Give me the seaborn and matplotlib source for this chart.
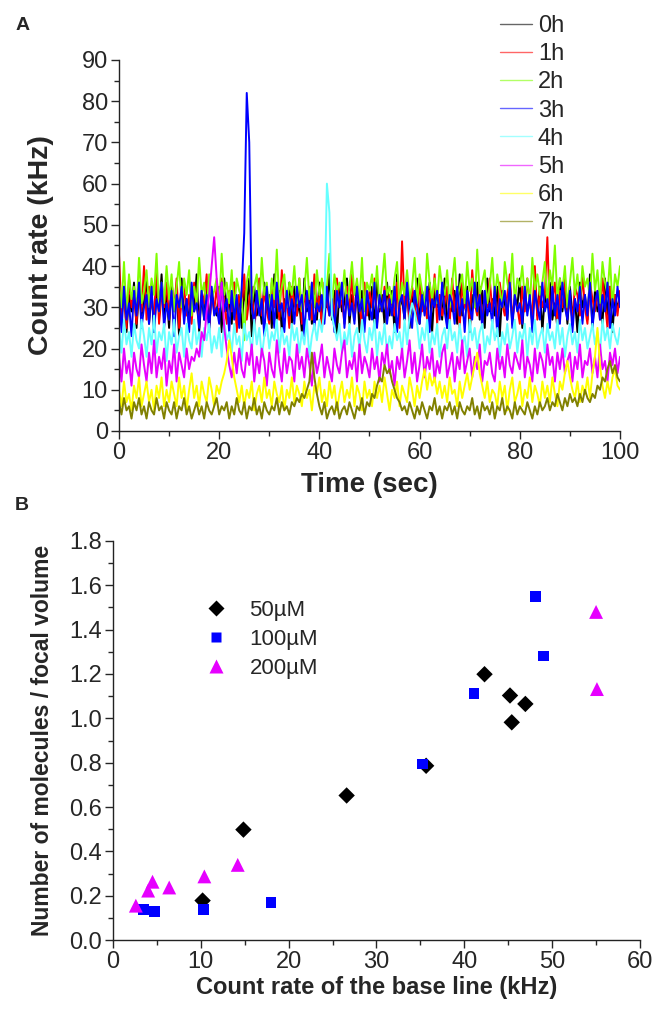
import numpy as np
import pandas as pd
import matplotlib
matplotlib.use('Agg')
import matplotlib.pyplot as plt
from matplotlib.lines import Line2D
from matplotlib.ticker import MultipleLocator, FormatStrFormatter
import seaborn as sns

# A: count rate traces, one value every 0.5 s from 0 to 100 s (kHz)
trace_names = ['0h', '1h', '2h', '3h', '4h', '5h', '6h', '7h']
trace_colors = ['#000000', '#ff0000', '#80ff00', '#0000ff', '#66ffff', '#e600ff', '#ffff00', '#808000']

rate_0h = [38, 27, 35, 24, 33, 29, 36, 25, 34, 28,
           31, 37, 26, 34, 24, 35, 29, 38, 27, 33,
           25, 36, 30, 34, 23, 37, 28, 32, 26, 35,
           29, 38, 24, 33, 27, 36, 25, 34, 30, 28,
           35, 24, 37, 29, 32, 26, 36, 27, 33, 25,
           34, 30, 37, 23, 35, 28, 31, 26, 36, 29,
           33, 25, 38, 27, 34, 24, 32, 30, 36, 26,
           35, 28, 31, 24, 37, 29, 33, 26, 34, 27,
           36, 25, 32, 30, 38, 27, 34, 23, 35, 29,
           31, 37, 26, 33, 28, 36, 24, 34, 30, 32,
           27, 35, 25, 37, 29, 33, 26, 36, 28, 34,
           24, 38, 30, 32, 27, 35, 25, 33, 29, 37,
           26, 34, 31, 28, 36, 24, 35, 30, 33, 27,
           37, 25, 32, 29, 34, 26, 38, 28, 31, 35,
           24, 33, 30, 36, 27, 34, 25, 37, 29, 32,
           28, 35, 23, 34, 31, 27, 36, 26, 33, 30,
           37, 25, 34, 29, 32, 26, 38, 28, 35, 24,
           33, 30, 36, 27, 31, 25, 37, 29, 34, 26,
           35, 28, 32, 24, 36, 30, 33, 27, 38, 25,
           34, 29, 31, 26, 37, 28, 35, 24, 33, 30,
           32]
rate_1h = [43, 28, 34, 25, 37, 30, 33, 26, 36, 29,
           40, 27, 35, 31, 28, 39, 26, 33, 30, 36,
           27, 34, 29, 37, 25, 32, 35, 28, 33, 26,
           36, 30, 27, 34, 31, 38, 25, 33, 29, 35,
           28, 37, 31, 26, 34, 29, 36, 24, 33, 30,
           38, 27, 32, 35, 25, 31, 37, 28, 34, 29,
           26, 36, 30, 33, 27, 39, 29, 32, 25, 35,
           31, 28, 37, 26, 33, 30, 35, 27, 38, 29,
           33, 25, 36, 31, 28, 34, 27, 37, 30, 32,
           26, 35, 29, 38, 27, 33, 31, 25, 36, 28,
           34, 30, 37, 26, 32, 29, 35, 27, 33, 31,
           28, 36, 25, 46, 30, 33, 27, 35, 31, 26,
           37, 29, 32, 27, 34, 30, 38, 26, 33, 28,
           31, 35, 26, 37, 29, 33, 25, 36, 30, 32,
           27, 39, 31, 28, 35, 26, 33, 30, 37, 29,
           34, 25, 36, 31, 28, 33, 38, 27, 32, 30,
           26, 35, 29, 37, 31, 28, 40, 27, 34, 30,
           33, 47, 28, 32, 36, 26, 34, 30, 37, 29,
           31, 27, 35, 33, 28, 38, 30, 26, 36, 32,
           29, 34, 27, 37, 31, 25, 35, 30, 33, 28,
           34]
rate_2h = [36, 30, 41, 28, 38, 32, 35, 29, 42, 31,
           34, 39, 30, 37, 33, 43, 29, 36, 31, 40,
           32, 38, 29, 35, 41, 30, 37, 33, 39, 28,
           35, 31, 42, 33, 36, 29, 38, 32, 34, 37,
           30, 43, 33, 36, 31, 39, 29, 37, 34, 32,
           22, 36, 40, 31, 35, 38, 30, 42, 33, 36,
           29, 37, 32, 44, 31, 35, 38, 30, 36, 33,
           40, 31, 37, 29, 34, 42, 32, 36, 30, 39,
           33, 37, 31, 35, 43, 30, 38, 34, 36, 32,
           39, 30, 35, 41, 33, 37, 31, 42, 29, 36,
           34, 38, 32, 40, 30, 36, 43, 33, 35, 31,
           37, 41, 30, 36, 33, 39, 32, 35, 42, 31,
           38, 34, 30, 43, 36, 32, 37, 31, 40, 35,
           33, 39, 30, 36, 42, 32, 35, 38, 31, 41,
           34, 37, 30, 44, 33, 36, 39, 31, 35, 42,
           32, 38, 34, 30, 41, 36, 33, 43, 31, 37,
           35, 40, 32, 37, 30, 42, 34, 38, 33, 36,
           41, 31, 39, 35, 45, 32, 37, 34, 40, 30,
           36, 42, 33, 38, 31, 40, 35, 37, 32, 43,
           34, 39, 31, 41, 36, 33, 42, 30, 38, 35,
           40]
rate_3h = [33, 24, 35, 27, 31, 23, 34, 28, 36, 25,
           30, 33, 26, 35, 24, 32, 29, 36, 25, 31,
           27, 34, 23, 33, 30, 35, 26, 32, 24, 36,
           29, 31, 25, 34, 27, 33, 24, 35, 28, 30,
           26, 36, 29, 32, 24, 34, 27, 33, 25, 35,
           48, 82, 70, 30, 26, 34, 28, 32, 23, 35,
           27, 33, 25, 36, 29, 31, 24, 34, 28, 32,
           26, 35, 30, 33, 23, 34, 27, 36, 25, 31,
           29, 33, 26, 35, 28, 32, 24, 34, 30, 36,
           25, 33, 28, 31, 26, 35, 29, 32, 24, 34,
           30, 27, 36, 25, 33, 29, 34, 26, 32, 28,
           35, 24, 31, 33, 27, 36, 29, 25, 34, 30,
           26, 33, 28, 35, 24, 32, 30, 34, 27, 36,
           29, 25, 33, 31, 26, 35, 28, 32, 24, 34,
           30, 27, 36, 29, 33, 25, 34, 28, 31, 26,
           35, 23, 32, 30, 34, 27, 36, 25, 33, 29,
           31, 26, 35, 28, 33, 24, 34, 30, 27, 36,
           29, 32, 25, 35, 28, 33, 26, 36, 30, 27,
           34, 24, 32, 29, 35, 26, 33, 28, 36, 25,
           31, 34, 27, 33, 29, 36, 25, 32, 28, 35,
           30]
rate_4h = [25, 19, 27, 21, 24, 18, 26, 22, 20, 27,
           23, 18, 25, 21, 28, 19, 24, 22, 26, 17,
           24, 21, 27, 19, 23, 25, 18, 26, 22, 20,
           27, 21, 24, 18, 25, 22, 26, 19, 23, 20,
           25, 18, 27, 22, 24, 19, 26, 21, 23, 17,
           26, 22, 24, 19, 27, 21, 25, 18, 23, 26,
           20, 24, 22, 27, 19, 25, 21, 23, 18, 26,
           22, 25, 19, 24, 21, 27, 18, 23, 26, 22,
           27, 24, 30, 60, 53, 28, 25, 22, 26, 19,
           24, 21, 26, 18, 23, 25, 20, 27, 22, 19,
           25, 22, 27, 18, 24, 21, 26, 19, 23, 20,
           26, 22, 24, 19, 27, 21, 28, 31, 29, 26,
           20, 25, 22, 27, 19, 24, 21, 26, 18, 23,
           25, 20, 27, 22, 24, 19, 26, 21, 23, 18,
           27, 22, 25, 20, 24, 26, 19, 23, 21, 27,
           22, 25, 18, 24, 21, 26, 20, 23, 27, 19,
           24, 22, 26, 18, 25, 21, 27, 20, 23, 25,
           19, 26, 22, 24, 20, 27, 21, 25, 18, 23,
           26, 21, 24, 19, 27, 22, 25, 20, 23, 26,
           21, 24, 19, 27, 22, 25, 20, 26, 23, 21,
           25]
rate_5h = [18, 12, 20, 14, 17, 11, 19, 15, 13, 21,
           16, 12, 19, 14, 22, 13, 18, 15, 20, 11,
           17, 14, 21, 12, 19, 16, 13, 20, 15, 18,
           17, 20, 18, 24, 22, 29, 33, 40, 47, 37,
           30, 36, 25, 20, 16, 13, 19, 14, 20, 15,
           13, 19, 16, 21, 12, 18, 14, 20, 17, 11,
           19, 15, 13, 22, 16, 12, 20, 14, 18, 17,
           12, 21, 15, 18, 13, 20, 16, 11, 19, 14,
           17, 21, 13, 18, 15, 12, 20, 16, 14, 19,
           22, 13, 17, 15, 19, 12, 21, 14, 18, 16,
           13, 20, 15, 18, 12, 19, 16, 21, 14, 17,
           11, 18, 15, 20, 13, 17, 22, 14, 19, 12,
           16, 21, 13, 18, 15, 20, 12, 17, 14, 19,
           21, 13, 16, 19, 12, 18, 15, 22, 14, 17,
           20, 13, 18, 15, 21, 12, 17, 16, 19, 14,
           12, 20, 15, 18, 13, 21, 16, 14, 19, 17,
           15, 22, 13, 18, 16, 12, 20, 14, 19, 17,
           13, 21, 16, 18, 12, 19, 15, 20, 14, 17,
           19, 12, 18, 15, 21, 13, 17, 16, 20, 14,
           18, 13, 21, 15, 17, 12, 19, 16, 20, 14,
           18]
rate_6h = [10, 6, 12, 7, 9, 5, 11, 8, 13, 6,
           9, 12, 7, 10, 5, 11, 8, 13, 6, 10,
           7, 12, 9, 6, 13, 8, 11, 5, 10, 14,
           8, 11, 6, 12, 9, 7, 13, 10, 6, 11,
           9, 12, 14, 17, 22, 18, 13, 10, 7, 11,
           6, 10, 8, 12, 5, 9, 11, 7, 13, 8,
           10, 6, 12, 9, 7, 11, 5, 10, 8, 13,
           7, 11, 9, 6, 12, 8, 10, 5, 11, 9,
           13, 7, 10, 6, 12, 8, 11, 5, 9, 12,
           7, 10, 8, 13, 6, 11, 9, 5, 12, 8,
           10, 6, 12, 8, 11, 7, 13, 9, 5, 10,
           8, 12, 6, 11, 9, 7, 13, 10, 6, 11,
           8, 12, 15, 10, 14, 11, 13, 9, 12, 8,
           11, 7, 13, 9, 10, 6, 12, 8, 11, 14,
           10, 13, 16, 19, 14, 11, 8, 12, 7, 10,
           9, 6, 12, 8, 11, 5, 10, 13, 7, 9,
           12, 6, 10, 8, 13, 7, 11, 9, 6, 12,
           8, 11, 7, 13, 9, 6, 12, 10, 14, 17,
           13, 10, 8, 12, 7, 11, 9, 13, 8, 14,
           18, 25, 16, 11, 8, 12, 9, 13, 15, 11,
           10]
rate_7h = [7, 4, 8, 5, 6, 3, 7, 5, 8, 4,
           6, 3, 7, 5, 4, 8, 5, 6, 3, 7,
           5, 4, 7, 3, 6, 5, 8, 4, 6, 3,
           5, 7, 4, 6, 3, 7, 5, 4, 6, 8,
           4, 6, 5, 7, 3, 6, 4, 8, 5, 4,
           7, 3, 6, 5, 8, 4, 6, 3, 7, 5,
           4, 6, 5, 8, 4, 7, 5, 6, 4, 7,
           6, 8, 7, 9, 8, 10, 12, 19, 13, 9,
           6, 4, 7, 3, 5, 6, 4, 7, 3, 5,
           6, 4, 7, 5, 3, 6, 5, 8, 4, 7,
           6, 9, 8, 11, 13, 12, 16, 14, 15, 12,
           10, 8, 7, 5, 6, 4, 7, 5, 3, 6,
           4, 7, 5, 3, 6, 5, 8, 4, 6, 3,
           6, 5, 7, 4, 6, 3, 7, 5, 4, 6,
           5, 8, 4, 6, 3, 7, 5, 6, 4, 7,
           3, 6, 5, 8, 4, 6, 5, 3, 7, 4,
           6, 5, 4, 7, 5, 3, 6, 4, 7, 5,
           6, 8, 5, 7, 6, 9, 7, 5, 8, 6,
           9, 7, 8, 6, 9, 7, 10, 8, 7, 9,
           8, 11, 10, 13, 12, 15, 17, 14, 16, 13,
           12]
trace_values = [rate_0h, rate_1h, rate_2h, rate_3h, rate_4h, rate_5h, rate_6h, rate_7h]

# B: molecules per focal volume vs base line count rate
conc_names = ['50\u00b5M', '100\u00b5M', '200\u00b5M']
conc_colors = ['#000000', '#0000ff', '#e600ff']
conc_markers = ['D', 's', '^']
base_50 = [10.2, 14.85, 26.6, 35.65, 42.3, 45.2, 46.95, 45.4]
num_50 = [0.178, 0.498, 0.652, 0.786, 1.199, 1.103, 1.065, 0.982]
base_100 = [3.45, 4.7, 10.3, 18.0, 35.2, 41.1, 48.1, 49.0]
num_100 = [0.137, 0.128, 0.136, 0.170, 0.794, 1.112, 1.551, 1.281]
base_200 = [2.6, 4.0, 4.5, 6.4, 10.4, 14.2, 55.0, 55.1]
num_200 = [0.155, 0.223, 0.263, 0.237, 0.287, 0.339, 1.480, 1.132]

sns.set_theme(style='ticks')
plt.rcParams['font.family'] = ['Liberation Sans', 'DejaVu Sans']
plt.rcParams['axes.linewidth'] = 1.0
plt.rcParams['axes.edgecolor'] = '#222222'

# long-form tables for seaborn
rows = []
for name, vals in zip(trace_names, trace_values):
    t = np.linspace(0, 100, len(vals))
    rows.append(pd.DataFrame({'time': t, 'rate': vals, 'trace': name}))
df_a = pd.concat(rows, ignore_index=True)

df_b = pd.concat([
    pd.DataFrame({'base': base_50, 'num': num_50, 'conc': conc_names[0]}),
    pd.DataFrame({'base': base_100, 'num': num_100, 'conc': conc_names[1]}),
    pd.DataFrame({'base': base_200, 'num': num_200, 'conc': conc_names[2]}),
], ignore_index=True)

fig = plt.figure(figsize=(6.57, 10.11), dpi=100)
ax1 = fig.add_axes([0.1811, 0.5737, 0.7626, 0.367])
ax2 = fig.add_axes([0.1720, 0.0702, 0.8021, 0.3947])

# panel A
sns.lineplot(data=df_a, x='time', y='rate', hue='trace', hue_order=trace_names,
             palette=dict(zip(trace_names, trace_colors)), estimator=None,
             sort=False, linewidth=1.4, legend=False, ax=ax1)
ax1.set_xlim(0, 100)
ax1.set_ylim(0, 90)
ax1.xaxis.set_major_locator(MultipleLocator(20))
ax1.xaxis.set_minor_locator(MultipleLocator(10))
ax1.yaxis.set_major_locator(MultipleLocator(10))
ax1.yaxis.set_minor_locator(MultipleLocator(5))
ax1.set_xlabel('Time (sec)', fontsize=20, fontweight='bold', labelpad=6)
ax1.set_ylabel('Count rate (kHz)', fontsize=20.5, fontweight='bold', labelpad=20)

handles = [Line2D([0], [0], color=c, lw=1.0, alpha=0.6) for c in trace_colors]
fig.legend(handles, trace_names, loc='upper left', bbox_to_anchor=(0.761, 0.985),
           frameon=False, fontsize=17, handlelength=1.35, handletextpad=0.25,
           labelspacing=0.26, borderpad=0, borderaxespad=0)

# panel B
sns.scatterplot(data=df_b, x='base', y='num', hue='conc', style='conc', size='conc',
                hue_order=conc_names, style_order=conc_names, size_order=conc_names,
                palette=dict(zip(conc_names, conc_colors)),
                markers=dict(zip(conc_names, conc_markers)),
                sizes=dict(zip(conc_names, [70, 60, 100])),
                edgecolor='none', ax=ax2)
ax2.set_xlim(0, 60)
ax2.set_ylim(0, 1.8)
ax2.xaxis.set_major_locator(MultipleLocator(10))
ax2.xaxis.set_minor_locator(MultipleLocator(5))
ax2.yaxis.set_major_locator(MultipleLocator(0.2))
ax2.yaxis.set_minor_locator(MultipleLocator(0.1))
ax2.yaxis.set_major_formatter(FormatStrFormatter('%.1f'))
ax2.set_xlabel('Count rate of the base line (kHz)', fontsize=17, fontweight='bold', labelpad=2)
ax2.set_ylabel('Number of molecules / focal volume', fontsize=16.5, fontweight='bold', labelpad=11)
ax2.legend(loc='upper left', bbox_to_anchor=(0.312, 0.4065), bbox_transform=fig.transFigure,
           frameon=False, fontsize=16, handlelength=1.0, handletextpad=1.0,
           labelspacing=0.35, borderpad=0, borderaxespad=0)

for ax in (ax1, ax2):
    sns.despine(ax=ax)
    ax.tick_params(which='major', direction='out', length=6, width=1.0, labelsize=17, pad=2)
    ax.tick_params(which='minor', direction='out', length=3.5, width=1.0)

fig.text(0.023, 0.975, 'A', fontsize=14, fontweight='bold', va='center')
fig.text(0.023, 0.500, 'B', fontsize=14, fontweight='bold', va='center')

fig.savefig('out.png', dpi=100)
